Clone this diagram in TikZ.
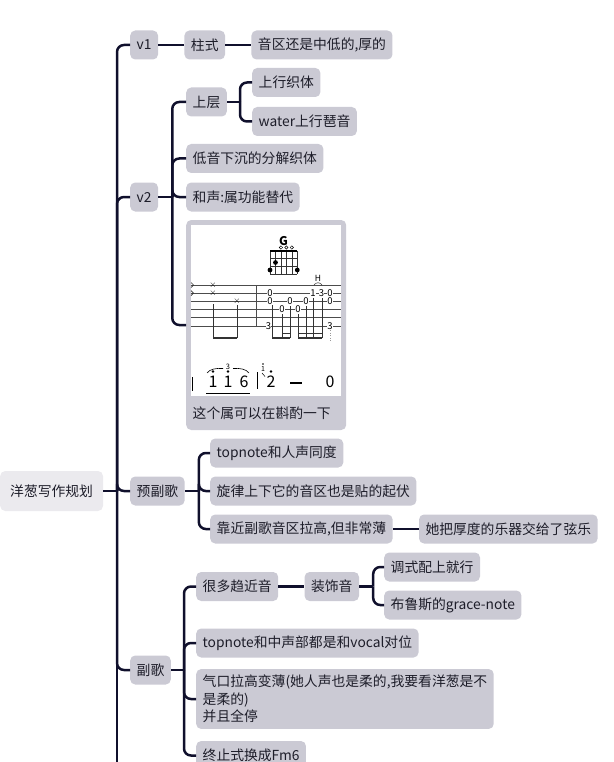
\documentclass[tikz,border=0pt]{standalone}
\usepackage{fontspec}
\setmainfont{Noto Sans CJK SC}
\usetikzlibrary{positioning}

\definecolor{boxfill}{HTML}{CBCAD4}
\definecolor{rootfill}{HTML}{EBEAEE}
\definecolor{ink}{HTML}{10102C}
\definecolor{txt}{HTML}{1D1D29}

\begin{document}
\begin{tikzpicture}[x=1pt, y=-1pt,
    % Styles
    link/.style={draw=ink, line width=2.5pt},
    elbow/.style={link, rounded corners=7pt},
    topic/.style={fill=boxfill, rounded corners=5pt, minimum height=29pt, inner xsep=6.5pt, inner ysep=2pt, text=txt, font=\fontsize{13.8}{17.5}\selectfont, anchor=west},
    rootbox/.style={topic, fill=rootfill, minimum height=40pt, inner xsep=10pt},
    tabline/.style={draw=black!70, line width=0.8pt},
    tabpen/.style={draw=black!80, line width=0.7pt},
    fretnum/.style={fill=white, inner sep=0.3pt, font=\fontsize{9.5}{9.5}\selectfont},
    jianpu/.style={inner sep=0pt, font=\fontsize{16}{16}\selectfont},
  ]
  \useasboundingbox (0,0) rectangle (613,762);
  \clip (0,0) rectangle (613,762);

  % === root and trunk ===
  \node[rootbox] (plan) at (0,491) {洋葱写作规划};
  \coordinate (trunk) at (117,491);
  \coordinate (more) at (117,790);

  % === v1 ===
  \node[topic] (v1) at (130,45) {v1};
  \node[topic, right=26pt of v1] (zhushi) {柱式};
  \node[topic, right=26pt of zhushi] (yinqu) {音区还是中低的,厚的};

  % === v2 ===
  \node[topic] (v2) at (130,197) {v2};
  \coordinate (v2bar) at ([xshift=14pt]v2.east);
  \node[topic] (upper) at (186,102) {上层};
  \coordinate (upperbar) at ([xshift=13pt]upper.east);
  \node[topic] (upasc) at (252,82.5) {上行织体};
  \node[topic] (uparp) at (252,121.5) {water上行琶音};
  \node[topic] (bassdown) at (186,158.5) {低音下沉的分解织体};
  \node[topic] (harmony) at (186,197) {和声:属功能替代};
  \node[topic, minimum width=160pt, minimum height=210pt, inner sep=0pt] (tabbox) at (186,325) {};
  \node[topic, fill=none] (tabnote) at (186,413) {这个属可以在斟酌一下};

  % === 预副歌 ===
  \node[topic] (prechorus) at (130,491) {预副歌};
  \coordinate (prebar) at ([xshift=14pt]prechorus.east);
  \node[topic] (unison) at (210,453) {topnote和人声同度};
  \node[topic] (contour) at (210,491) {旋律上下它的音区也是贴的起伏};
  \node[topic] (thin) at (210,529) {靠近副歌音区拉高,但非常薄};
  \node[topic, right=26pt of thin] (strings) {她把厚度的乐器交给了弦乐};

  % === 副歌 ===
  \node[topic] (chorus) at (130,670) {副歌};
  \coordinate (chorusbar) at ([xshift=13pt]chorus.east);
  \node[topic] (approach) at (196,586.5) {很多趋近音};
  \node[topic, right=26pt of approach] (grace) {装饰音};
  \coordinate (gracebar) at ([xshift=14pt]grace.east);
  \node[topic] (mode) at (384,567) {调式配上就行};
  \node[topic] (blues) at (384,605) {布鲁斯的grace-note};
  \node[topic] (counter) at (196,643) {topnote和中声部都是和vocal对位};
  \node[topic, align=left, inner ysep=6pt] (breath) at (196,699) {气口拉高变薄(她人声也是柔的,我要看洋葱是不\\是柔的)\\并且全停};
  \node[topic] (cadence) at (196,755.5) {终止式换成Fm6};

  % === connectors ===
  \draw[link] (plan) -- (trunk) -- (more);
  \foreach \b in {v1, v2, prechorus, chorus}
    \draw[elbow] (trunk) |- (\b);
  \draw[link] (v1) -- (zhushi);
  \draw[link] (zhushi) -- (yinqu);
  \draw[link] (v2) -- (v2bar);
  \foreach \b in {upper, bassdown, harmony, tabbox}
    \draw[elbow] (v2bar) |- (\b);
  \draw[link] (upper) -- (upperbar);
  \foreach \b in {upasc, uparp}
    \draw[elbow] (upperbar) |- (\b);
  \draw[link] (prechorus) -- (prebar);
  \foreach \b in {unison, contour, thin}
    \draw[elbow] (prebar) |- (\b);
  \draw[link] (thin) -- (strings);
  \draw[link] (chorus) -- (chorusbar);
  \foreach \b in {approach, counter, breath, cadence}
    \draw[elbow] (chorusbar) |- (\b);
  \draw[link] (approach) -- (grace);
  \draw[link] (grace) -- (gracebar);
  \foreach \b in {mode, blues}
    \draw[elbow] (gracebar) |- (\b);

  % === tab picture ===
  \fill[white] (191,225) rectangle (341,396);
  \foreach \s in {285,293.2,301.4,309.6,317.8,326}
    \draw[tabline] (191,\s) -- (341,\s);
  \draw[tabline] (256,285) -- (256,326);
  % chord box G
  \node[font=\fontsize{12}{12}\selectfont\bfseries, inner sep=0pt] (chordname) at (283.5,241.5) {G};
  \foreach \i in {0,...,5}
    \draw[black!80, line width=0.6pt] (270+5.46*\i,251) -- (270+5.46*\i,274);
  \foreach \j in {258.7,266.3,274}
    \draw[black!80, line width=0.6pt] (270,\j) -- (297.3,\j);
  \draw[line width=1.2pt] (270,251) -- (297.3,251);
  \foreach \i in {2,3,4}
    \draw[line width=0.5pt, fill=white] (270+5.46*\i,247.5) circle (1.7pt);
  \fill (270,270) circle (2.4pt) (275.5,262.5) circle (2.4pt) (297.3,270) circle (2.4pt);
  % left bar: muted strums
  \draw[tabpen] (191,282.5) -- (193.5,285) -- (191,287.5) (191,290.7) -- (193.5,293.2) -- (191,295.7);
  \foreach \p in {(213,285),(213,293.2),(237,301.4)}
    \node[inner sep=0pt, font=\fontsize{9}{9}\selectfont] at \p {$\times$};
  \draw[tabpen] (213,304) -- (213,338) (237,305) -- (237,338);
  \draw[black!80, line width=1.6pt] (213,338) -- (237,338);
  % right bar: picking
  \foreach \x/\t in {272/305, 282/314, 290/306, 298/314, 306/306, 313/298, 322/298}
    \draw[tabpen] (\x,\t) -- (\x,338);
  \draw[black!80, line width=1.4pt] (272,338) -- (290,338) (282,333.5) -- (290,333.5)
    (298,338) -- (322,338) (298,333.5) -- (322,333.5);
  \draw[black!40, line width=0.6pt, dotted] (330,330) -- (330,341);
  \foreach \x/\y/\n in {270/293.2/0, 270/301.4/0, 268.5/326/3, 282/309.6/0, 290/301.4/0, 298/309.6/0, 306/301.4/0, 313/293.2/1, 321.5/293.2/3, 330/293.2/0, 330/301.4/0, 330/326/3}
    \node[fretnum] at (\x,\y) {\n};
  \node[inner sep=0pt, font=\fontsize{8.5}{8.5}\selectfont] at (318,278) {H};
  \draw[black!80, line width=0.5pt] (314,285) .. controls (316,282) and (320,282) .. (322,285);
  % numbered notation
  \foreach \x/\n in {213/1, 228/1, 244/6, 271/2, 330/0}
    \node[jianpu] at (\x,382) {\n};
  \draw[line width=2pt] (290,383) -- (302,383);
  \fill (213,371.5) circle (1.3pt) (228,371.5) circle (1.3pt) (271,371.5) circle (1.3pt);
  \draw[line width=0.6pt] (207,373) .. controls (210,369) and (216,368) .. (223,368.5);
  \node[inner sep=0pt, font=\fontsize{7.5}{7.5}\selectfont] at (228,367) {3};
  \draw[line width=0.6pt] (233,368.5) .. controls (240,368) and (246,369) .. (249,373);
  \draw[line width=0.8pt] (206,393.5) -- (250,393.5);
  \draw[line width=0.8pt] (257.5,372) -- (257.5,389);
  \draw[line width=0.8pt] (192.5,377) -- (192.5,391);
  \node[inner sep=0pt, font=\fontsize{7}{7}\selectfont] at (263,369) {1};
  \fill (263,364) circle (0.8pt);
  \draw[line width=0.5pt] (262,373) -- (265,376.5);
\end{tikzpicture}
\end{document}
